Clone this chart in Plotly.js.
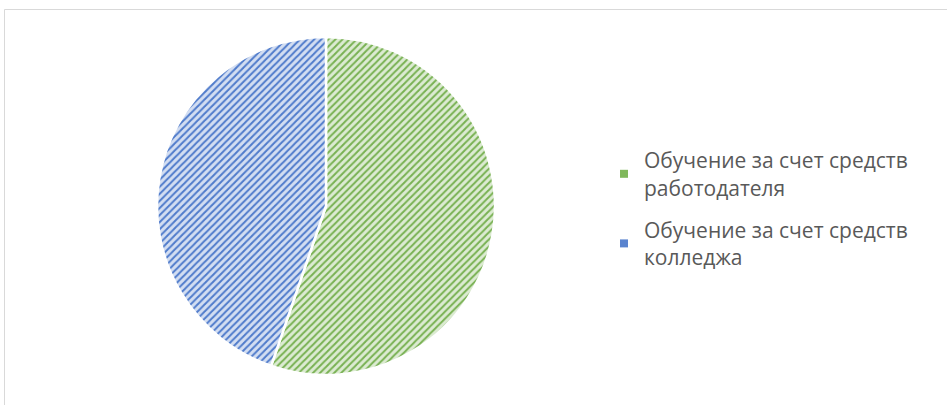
<!DOCTYPE html>
<html>
<head>
<meta charset="utf-8">
<script src="https://cdn.plot.ly/plotly-3.0.1.min.js"></script>
<style>html,body{margin:0;padding:0;background:#fff;}#chart{width:947px;height:405px;}</style>
</head>
<body>
<div id="chart"></div>
<script>
var labels = ['Обучение за счет средств<br>работодателя', 'Обучение за счет средств<br>колледжа'];
var values = [21, 17];
var lineColors = ['#78b152', '#4f7bcb'];
var fillColors = ['#dcebd2', '#d3def2'];
var legendSwatch = ['#80b85c', '#5a84cf'];

var W = 947, H = 405;
var pie = {
  type: 'pie',
  labels: labels,
  values: values,
  sort: false,
  direction: 'clockwise',
  rotation: 0,
  textinfo: 'none',
  hoverinfo: 'label+value',
  showlegend: false,
  domain: {x: [(326-169)/W, (326+169)/W], y: [(405-375)/H, (405-37)/H]},
  marker: {
    colors: fillColors,
    line: {color: '#ffffff', width: 2.5},
    pattern: {shape: '/', fgcolor: lineColors, bgcolor: fillColors, size: 5, solidity: 0.4}
  }
};

// legend entries (one per slice) so the gap between entries can be set
var legendTraces = labels.map(function (lab, i) {
  return {
    type: 'scatter', mode: 'markers', x: [null], y: [null], name: lab, legendgroup: 'g' + i,
    showlegend: true, hoverinfo: 'skip',
    marker: {color: legendSwatch[i], symbol: 'square', size: 8, line: {width: 0}}
  };
});

var layout = {
  width: W, height: H,
  margin: {l: 0, r: 0, t: 0, b: 0},
  paper_bgcolor: '#ffffff',
  plot_bgcolor: 'rgba(0,0,0,0)',
  xaxis: {visible: false, domain: [0.99, 1]},
  yaxis: {visible: false, domain: [0.99, 1]},
  showlegend: true,
  legend: {
    x: 604/W, y: (405-209)/H, xanchor: 'left', yanchor: 'middle',
    font: {family: 'Open Sans, Noto Sans, sans-serif', size: 21, color: '#595959'},
    itemwidth: 30,
    traceorder: 'grouped',
    tracegroupgap: 12
  },
  shapes: [{
    type: 'rect', xref: 'paper', yref: 'paper',
    x0: 4.5/W, x1: 1.01, y0: -0.01, y1: 1 - 9.5/H,
    line: {color: '#d9d9d9', width: 1}, fillcolor: 'rgba(0,0,0,0)'
  }]
};

Plotly.newPlot('chart', [pie].concat(legendTraces), layout, {displayModeBar: false, staticPlot: true});
</script>
</body>
</html>
